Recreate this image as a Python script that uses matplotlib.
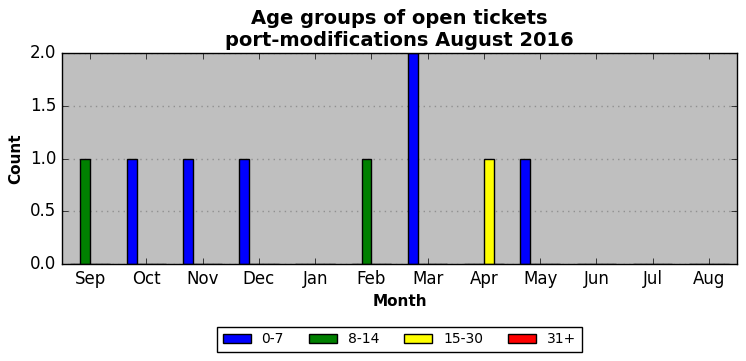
import numpy as np
import matplotlib
matplotlib.use("Agg")
import matplotlib.pyplot as plt

months = ["Sep", "Oct", "Nov", "Dec", "Jan", "Feb", "Mar", "Apr", "May", "Jun", "Jul", "Aug"]
groups = ["0-7", "8-14", "15-30", "31+"]
colors = ["blue", "green", "yellow", "red"]
age_0_7 = [0, 1, 1, 1, 0, 0, 2, 0, 1, 0, 0, 0]
age_8_14 = [1, 0, 0, 0, 0, 1, 0, 0, 0, 0, 0, 0]
age_15_30 = [0, 0, 0, 0, 0, 0, 0, 1, 0, 0, 0, 0]
age_31 = [0, 0, 0, 0, 0, 0, 0, 0, 0, 0, 0, 0]
series = [age_0_7, age_8_14, age_15_30, age_31]

plt.style.use("classic")
plt.rcParams["font.family"] = "DejaVu Sans"

fig = plt.figure(figsize=(7.46, 3.61), dpi=100, facecolor="white")
ax = fig.add_axes([62/746, 1-264/361, 675/746, 211/361])
ax.set_facecolor("#bfbfbf")

x = np.arange(len(months))
w = 0.175
for i, (vals, c, lab) in enumerate(zip(series, colors, groups)):
    ax.bar(x + (i - 2) * w, vals, w, align="edge", color=c, edgecolor="black",
           linewidth=1, label=lab)

ax.set_xlim(-0.5, len(months) - 0.5)
ax.set_ylim(0, 2)
ax.set_xticks(x)
ax.set_xticklabels(months)
ax.set_yticks([0, 0.5, 1.0, 1.5, 2.0])
ax.yaxis.grid(True, linestyle=":", color="#909090", linewidth=1)
ax.xaxis.grid(False)
ax.set_axisbelow(True)
ax.tick_params(labelsize=12)

ax.set_title("Age groups of open tickets\nport-modifications August 2016",
             fontsize=14, fontweight="bold")
ax.set_xlabel("Month", fontsize=11, fontweight="bold")
ax.set_ylabel("Count", fontsize=11, fontweight="bold")

leg = ax.legend(loc="upper center", bbox_to_anchor=(0.5, -0.265), ncol=4,
                fontsize=10, frameon=True, fancybox=False, columnspacing=1.8)
leg.get_frame().set_edgecolor("black")

fig.savefig("out.png", dpi=100, facecolor="white")
